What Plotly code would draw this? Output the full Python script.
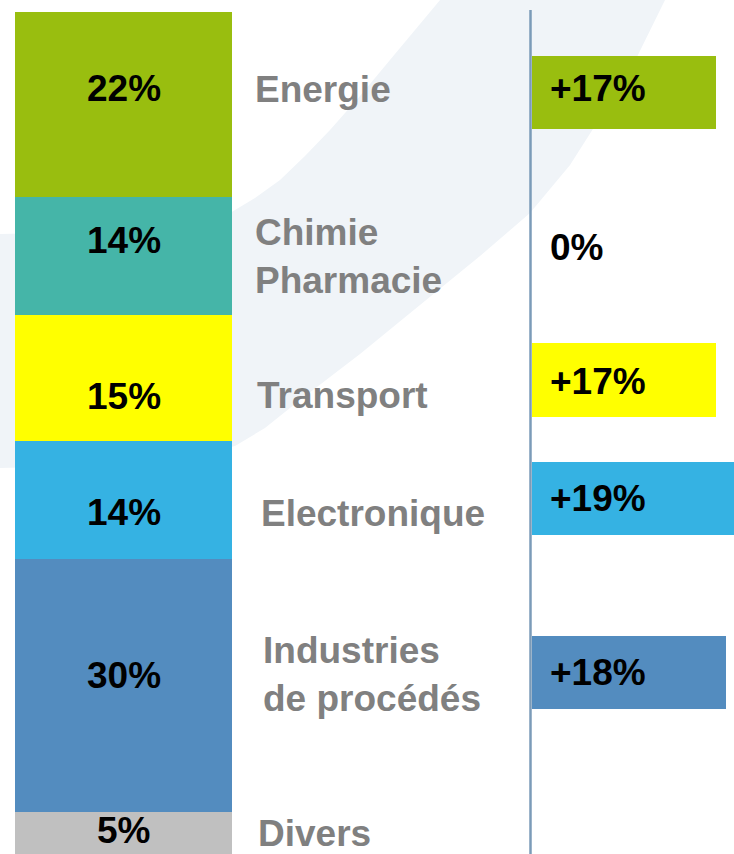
import plotly.graph_objects as go

# ---- data (bottom -> top of the stack) ----
sectors = ["Divers", "Industries<br>de procédés", "Electronique", "Transport",
           "Chimie<br>Pharmacie", "Energie"]
shares = [5, 30, 14, 15, 14, 22]
share_labels = ["5%", "30%", "14%", "15%", "14%", "22%"]
growth = [None, 18, 19, 17, 0, 17]
growth_labels = [None, "+18%", "+19%", "+17%", "0%", "+17%"]

colors = ["#C0C0C0", "#538CBF", "#35B2E3", "#FFFF00", "#45B5A8", "#99BE0F"]

W, H = 734, 854
FONT = "Arial, Liberation Sans, sans-serif"

# cumulative centers of each stacked segment (data units)
centers = []
acc = 0
for v in shares:
    centers.append(acc + v / 2)
    acc += v

fig = go.Figure()

# stacked share bar
for i, (name, v) in enumerate(zip(sectors, shares)):
    fig.add_trace(go.Bar(
        x=[0], y=[v], width=1, name=name,
        marker=dict(color=colors[i], line=dict(width=0)),
        xaxis="x", yaxis="y", hoverinfo="skip", showlegend=False,
    ))

# growth bars
bw = 8.7
bar_shift = [0, 1.6, 0.2, -0.2, 0, 1.4]
gy, gx, gc, go_ = [], [], [], []
for i, g in enumerate(growth):
    if g is None:
        continue
    gy.append(centers[i])
    gx.append(g)
    gc.append(colors[i])
    go_.append(-bw / 2 + bar_shift[i])
fig.add_trace(go.Bar(
    x=gx, y=gy, orientation="h", width=bw, offset=go_,
    marker=dict(color=gc, line=dict(width=0)),
    xaxis="x2", yaxis="y", hoverinfo="skip", showlegend=False,
))

ann = []
# share labels inside segments
share_shift = [2, 10, -12, -18, 16, 16]
for i, t in enumerate(share_labels):
    ann.append(dict(x=0, y=centers[i], xref="x", yref="y", text=t,
                    showarrow=False, yshift=share_shift[i],
                    font=dict(family=FONT, size=37, color="#000000", weight="bold")))

# sector names
name_x = [256, 261, 259, 255, 253, 253]
name_shift = [-1, 11, -13, -17, 0, 15]
for i, t in enumerate(sectors):
    ann.append(dict(x=name_x[i] / W, y=centers[i], xref="paper", yref="y",
                    text=t, showarrow=False, xanchor="left", align="left",
                    yshift=name_shift[i],
                    font=dict(family=FONT, size=37, color="#808080", weight="bold")))

# growth labels
g_shift = [0, 0, 0, -2, 9, 4]
for i, t in enumerate(growth_labels):
    if t is None:
        continue
    ann.append(dict(x=0, y=centers[i] + bar_shift[i], xref="x2", yref="y",
                    text=t, showarrow=False, xanchor="left", xshift=16,
                    yshift=g_shift[i],
                    font=dict(family=FONT, size=37, color="#000000", weight="bold")))


def P(x, y):
    return f"{x / W:.4f},{1 - y / H:.4f}"


upper = [(440, 0), (415, 30), (390, 60), (360, 96), (330, 130), (305, 156),
         (280, 180), (255, 198), (230, 213), (205, 221), (180, 226),
         (140, 230), (100, 232), (0, 234)]
lower = [(0, 468), (80, 466), (150, 461), (200, 454), (235, 446),
         (265, 428), (300, 400), (360, 354), (420, 305), (480, 256),
         (530, 213), (570, 165), (605, 110), (637, 57), (665, 0)]
pts = [(665, 0)] + upper + lower
swoosh = "M " + " L ".join(P(x, y) for x, y in pts) + " Z"

shapes = [
    dict(type="path", path=swoosh, xref="paper", yref="paper",
         fillcolor="#F0F4F8", line=dict(width=0), layer="below"),
    dict(type="line", xref="paper", yref="paper",
         x0=530.5 / W, x1=530.5 / W, y0=0, y1=1 - 10 / H,
         line=dict(color="#7B9BB8", width=2.5), layer="above"),
]

top_px = 12
fig.update_layout(
    width=W, height=H,
    margin=dict(l=0, r=0, t=0, b=0),
    paper_bgcolor="white",
    plot_bgcolor="rgba(0,0,0,0)",
    barmode="stack",
    xaxis=dict(domain=[15 / W, 232 / W], range=[-0.5, 0.5], visible=False,
               fixedrange=True),
    xaxis2=dict(domain=[532 / W, 1], range=[0, 202 / 10.8], visible=False,
                anchor="y", fixedrange=True),
    yaxis=dict(domain=[0, 1 - top_px / H], range=[0, 100], visible=False,
               fixedrange=True),
    annotations=ann,
    shapes=shapes,
)

fig.write_html(
    "out.html",
    config={"displayModeBar": False},
    post_script="document.body.style.margin='0';document.body.style.overflow='hidden';",
)
